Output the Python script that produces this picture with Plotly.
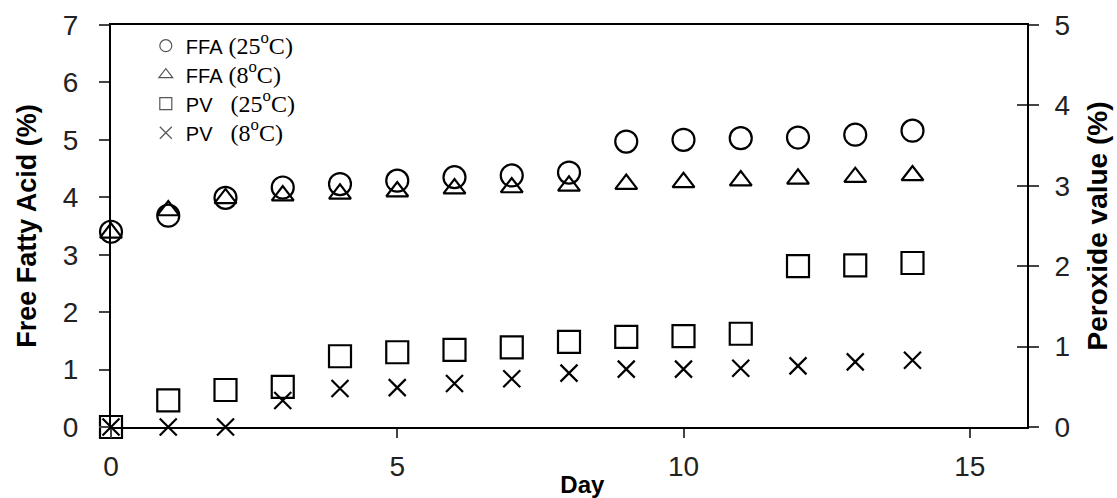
import plotly.graph_objects as go

days = list(range(15))
ffa_25 = [3.40, 3.68, 3.99, 4.17, 4.23, 4.29, 4.35, 4.38, 4.43, 4.97, 5.00, 5.03, 5.04, 5.09, 5.16]
ffa_8 = [3.38, 3.77, 3.98, 4.03, 4.06, 4.10, 4.15, 4.17, 4.20, 4.23, 4.26, 4.29, 4.32, 4.35, 4.38]
pv_25 = [0.0, 0.33, 0.46, 0.50, 0.88, 0.93, 0.96, 0.99, 1.06, 1.12, 1.13, 1.16, 2.00, 2.01, 2.04]
pv_8 = [0.0, 0.0, 0.0, 0.33, 0.48, 0.49, 0.54, 0.60, 0.67, 0.72, 0.72, 0.73, 0.76, 0.81, 0.83]

SERIF = "Liberation Serif, Times New Roman, serif"
def lbl(a, b):
    return f"{a}<span style='font-family:{SERIF};font-size:24px'>{b}</span>"

legend_names = [
    lbl("FFA", " (25<sup>o</sup>C)"),
    lbl("FFA", " (8<sup>o</sup>C)"),
    lbl("PV", "&nbsp;&nbsp;&nbsp;(25<sup>o</sup>C)"),
    lbl("PV", "&nbsp;&nbsp;&nbsp;(8<sup>o</sup>C)"),
]

fig = go.Figure()
series = [
    (ffa_25, "circle-open", 22, "y", 0),
    (ffa_8, "triangle-up-open", 19, "y", 1),
    (pv_25, "square-open", 22, "y2", 2),
    (pv_8, "x-thin-open", 17, "y2", 3),
]
for vals, sym, sz, ax, i in series:
    fig.add_trace(go.Scatter(
        x=days, y=vals, yaxis=ax, mode="markers", showlegend=False, cliponaxis=False,
        marker=dict(symbol=sym, size=sz, color="black", line=dict(color="black", width=2.2)),
    ))
    fig.add_trace(go.Scatter(
        x=[None], y=[None], yaxis=ax, mode="markers", name=legend_names[i],
        marker=dict(symbol=sym, size=12, color="#555", line=dict(color="#555", width=1.2)),
    ))

FONT = "Liberation Sans, Arial, sans-serif"
axis_font = dict(family=FONT, size=28, color="#222")

fig.update_layout(
    width=1117, height=498,
    margin=dict(l=111, r=90, t=25, b=71),
    plot_bgcolor="white", paper_bgcolor="white",
    font=dict(family=FONT, color="black"),
    xaxis=dict(range=[0, 16], tickvals=[0, 5, 10, 15], ticks="outside", ticklen=9, tickwidth=1.5,
               showline=True, linewidth=2, linecolor="black", mirror=True, showgrid=False,
               zeroline=False, tickfont=axis_font, automargin=False, ticklabelstandoff=4,
               title=dict(text="&nbsp;&nbsp;&nbsp;&nbsp;<b>Day</b>",
                          font=dict(family=FONT, size=24, color="black"), standoff=0)),
    yaxis=dict(range=[0, 7], tickvals=list(range(8)), ticks="outside", ticklen=10, tickwidth=1.5,
               showline=True, linewidth=2, linecolor="black", showgrid=False, zeroline=False,
               tickfont=axis_font, automargin=False, ticklabelstandoff=15,
               title=dict(text="<b>Free Fatty Acid (%)</b>", font=dict(family=FONT, size=27, color="black"), standoff=18)),
    yaxis2=dict(range=[0, 5], tickvals=list(range(6)), overlaying="y", side="right", anchor="x",
                ticks="outside", ticklen=10, tickwidth=1.5, showline=True, linewidth=2,
                linecolor="black", showgrid=False, zeroline=False, tickfont=axis_font, automargin=False,
                ticklabelstandoff=10,
                title=dict(text="<b>Peroxide value (%)</b>", font=dict(family=FONT, size=28, color="black"), standoff=18)),
    yaxis3=dict(range=[0, 5], tickvals=list(range(6)), overlaying="y", side="right", anchor="x",
                ticks="inside", ticklen=10, tickwidth=1.5, showline=False, showgrid=False,
                zeroline=False, showticklabels=False, automargin=False),
    legend=dict(x=0.038, y=0.997, xanchor="left", yanchor="top", bgcolor="rgba(0,0,0,0)",
                font=dict(family=FONT, size=20, color="black"),
                tracegroupgap=0, itemwidth=30),
)
fig.add_trace(go.Scatter(x=[None], y=[None], yaxis="y3", showlegend=False, hoverinfo="skip"))

fig.write_html("out.html", config={"displayModeBar": False},
               post_script="document.body.style.margin='0';document.body.style.overflow='hidden';")
